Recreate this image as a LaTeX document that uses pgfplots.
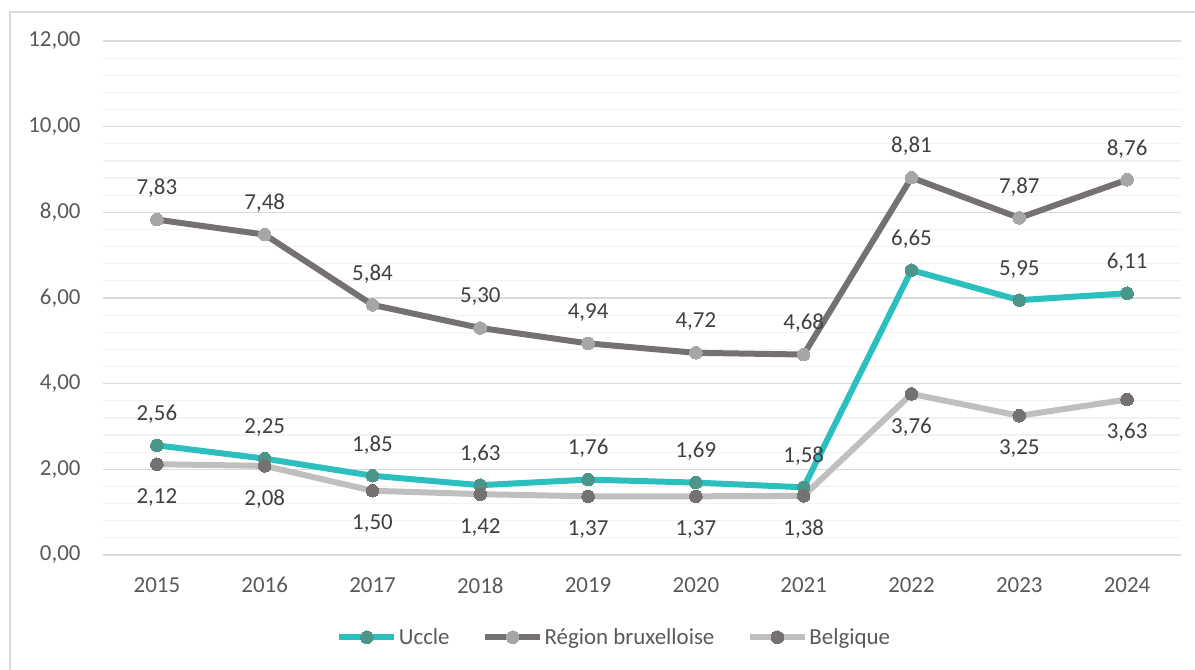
\documentclass[border=0pt]{standalone}
\usepackage{pgfplots}
\pgfplotsset{compat=1.18}
\usepackage{fontspec}
\setmainfont{Carlito}
\definecolor{txt}{HTML}{595959}
\definecolor{lbl}{HTML}{404040}
\definecolor{teal1}{HTML}{2BBFBD}
\definecolor{teal2}{HTML}{4A968A}
\definecolor{dgray}{HTML}{767171}
\definecolor{lgray}{HTML}{A6A6A6}
\definecolor{vlgray}{HTML}{BFBFBF}
\definecolor{majgrid}{HTML}{D9D9D9}
\definecolor{mingrid}{HTML}{F2F2F2}
\begin{document}
\begin{tikzpicture}[x=1bp,y=1bp]
\path[use as bounding box] (0,0) rectangle (1195,670);
\draw[majgrid, line width=1.2bp] (10,0) -- (10,658) -- (1195,658);
\begin{axis}[
  at={(103bp,115bp)}, anchor=south west,
  scale only axis, width=1078bp, height=514bp,
  xmin=-0.5, xmax=9.5, ymin=0, ymax=12,
  xtick={0,...,9},
  xticklabels={2015,2016,2017,2018,2019,2020,2021,2022,2023,2024},
  ytick={0,2,...,12},
  minor y tick num=4,
  ymajorgrids, yminorgrids,
  major grid style={majgrid, line width=1.2bp},
  minor grid style={mingrid, line width=1.2bp},
  axis lines*=left,
  x axis line style={majgrid, line width=1.2bp, -},
  y axis line style={draw=none},
  major tick length=0pt, minor tick length=0pt,
  tick style={draw=none},
  /pgf/number format/fixed,
  /pgf/number format/fixed zerofill,
  /pgf/number format/precision=2,
  /pgf/number format/use comma,
  /pgf/number format/assume math mode=true,
  ticklabel style={font=\fontsize{23}{26}\selectfont, text=txt},
  yticklabel style={xshift=-19bp},
  xticklabel style={yshift=-19bp},
  clip=false,
  nodes near coords,
  every node near coord/.append style={font=\fontsize{23}{26}\selectfont, text=lbl, anchor=center},
  legend columns=3,
  legend style={at={(0.474,-0.16)}, anchor=center, draw=none, fill=none,
    font=\fontsize{23}{26}\selectfont, text=txt,
    nodes={inner sep=1.5bp},
    /tikz/every even column/.append style={column sep=31bp}},
  legend image code/.code={
    \draw[#1, mark repeat=2, mark phase=2] plot coordinates {(0bp,0bp) (27.5bp,0bp) (55bp,0bp)};
  },
  legend cell align=left,
]
\addplot[teal1, line width=6bp, mark=*, mark size=6.3bp, mark options={fill=teal2, draw=teal2, line width=0pt},
  every node near coord/.append style={yshift=31bp}]
  coordinates {(0,2.56)(1,2.25)(2,1.85)(3,1.63)(4,1.76)(5,1.69)(6,1.58)(7,6.65)(8,5.95)(9,6.11)};
\addlegendentry{Uccle}
\addplot[dgray, line width=6bp, mark=*, mark size=6.3bp, mark options={fill=lgray, draw=lgray, line width=0pt},
  every node near coord/.append style={yshift=31bp}]
  coordinates {(0,7.83)(1,7.48)(2,5.84)(3,5.30)(4,4.94)(5,4.72)(6,4.68)(7,8.81)(8,7.87)(9,8.76)};
\addlegendentry{Région bruxelloise}
\addplot[vlgray, line width=6bp, mark=*, mark size=6.3bp, mark options={fill=dgray, draw=dgray, line width=0pt},
  every node near coord/.append style={yshift=-33bp}]
  coordinates {(0,2.12)(1,2.08)(2,1.50)(3,1.42)(4,1.37)(5,1.37)(6,1.38)(7,3.76)(8,3.25)(9,3.63)};
\addlegendentry{Belgique}
\end{axis}
\end{tikzpicture}
\end{document}
